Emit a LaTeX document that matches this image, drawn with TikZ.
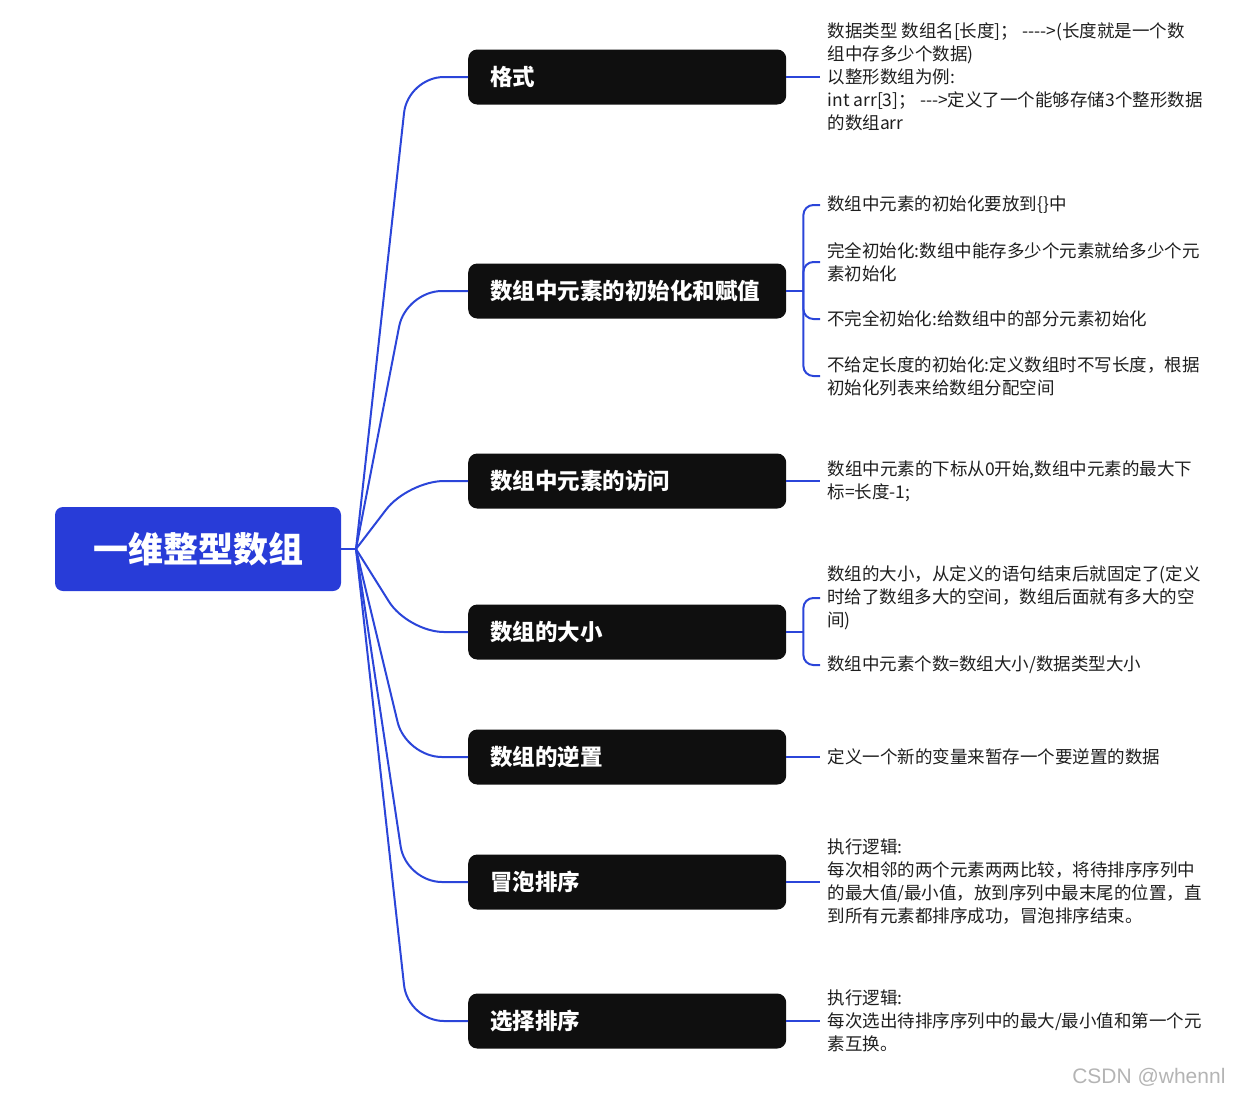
\documentclass[tikz,border=0pt]{standalone}
\usepackage{fontspec}
\setmainfont{Noto Sans CJK SC}
\newfontfamily\markfont{Liberation Sans}
\usepackage{tikz}
\usetikzlibrary{positioning}
\definecolor{rootblue}{HTML}{283CD8}
\definecolor{linkblue}{HTML}{2B45D9}
\definecolor{topicblack}{HTML}{0F0F0F}
\definecolor{leafink}{HTML}{1E1E1E}
\definecolor{markgray}{HTML}{B4B4B4}
\tikzset{
  rootnode/.style={
    rectangle, rounded corners=8pt,
    minimum width=286pt, minimum height=84pt,
    fill=rootblue, text=white,
    font=\fontsize{35}{40}\selectfont\bfseries
  },
  topicnode/.style={
    rectangle, rounded corners=9pt,
    minimum height=55pt, text width=274pt, inner xsep=22pt,
    align=left, fill=topicblack, text=white,
    font=\fontsize{22.5}{26}\selectfont\bfseries
  },
  leafnode/.style={
    align=left, inner xsep=7pt, inner ysep=0pt,
    text=leafink, font=\fontsize{17.5}{23}\selectfont
  },
  link/.style={
    line width=2pt, color=linkblue
  },
  branch/.style={
    link, rounded corners=36pt
  },
  bracket/.style={
    link, rounded corners=10pt
  },
  watermark/.style={
    text=markgray, font=\markfont\fontsize{21}{24}\selectfont
  }
}

\begin{document}
\begin{tikzpicture}[x=1pt, y=-1pt]
  \useasboundingbox (0,0) rectangle (1233,1096);

  % ── Root ───────────────────────────────────────────────────────────────
  \node[rootnode] (root) at (198,549) {一维整型数组};
  \coordinate (hub) at (356,549);
  \draw[link] (root.east) -- (hub);

  % ── Topics ─────────────────────────────────────────────────────────────
  \node[topicnode, anchor=west] (geshi)   at (468,77)   {格式};
  \node[topicnode, anchor=west] (init)    at (468,291)  {数组中元素的初始化和赋值};
  \node[topicnode, anchor=west] (visit)   at (468,481)  {数组中元素的访问};
  \node[topicnode, anchor=west] (size)    at (468,632)  {数组的大小};
  \node[topicnode, anchor=west] (reverse) at (468,757)  {数组的逆置};
  \node[topicnode, anchor=west] (bubble)  at (468,882)  {冒泡排序};
  \node[topicnode, anchor=west] (select)  at (468,1021) {选择排序};

  % branches — root to topics
  \draw[branch] (hub) -- ([xshift=-60pt]geshi.west)   -- (geshi.west);
  \draw[branch] (hub) -- ([xshift=-62pt]init.west)    -- (init.west);
  \draw[branch] (hub) -- ([xshift=-60pt]visit.west)   -- (visit.west);
  \draw[branch] (hub) -- ([xshift=-60pt]size.west)    -- (size.west);
  \draw[branch] (hub) -- ([xshift=-62pt]reverse.west) -- (reverse.west);
  \draw[branch] (hub) -- ([xshift=-62pt]bubble.west)  -- (bubble.west);
  \draw[branch] (hub) -- ([xshift=-60pt]select.west)  -- (select.west);

  % ── Leaves: single ─────────────────────────────────────────────────────
  \node[leafnode, right=34pt of geshi] (geshileaf)
    {数据类型 数组名[长度]；\ -{}-{}-{}->(长度就是一个数\\组中存多少个数据)\\以整形数组为例:\\int arr[3]；\ -{}-{}->定义了一个能够存储3个整形数据\\的数组arr};
  \node[leafnode, right=34pt of visit] (visitleaf)
    {数组中元素的下标从0开始,数组中元素的最大下\\标=长度-1;};
  \node[leafnode, right=34pt of reverse] (reverseleaf)
    {定义一个新的变量来暂存一个要逆置的数据};
  \node[leafnode, right=34pt of bubble] (bubbleleaf)
    {执行逻辑:\\每次相邻的两个元素两两比较，将待排序序列中\\的最大值/最小值，放到序列中最末尾的位置，直\\到所有元素都排序成功，冒泡排序结束。};
  \node[leafnode, right=34pt of select] (selectleaf)
    {执行逻辑:\\每次选出待排序序列中的最大/最小值和第一个元\\素互换。};

  \draw[link] (geshi.east)   -- (geshileaf.west);
  \draw[link] (visit.east)   -- (visitleaf.west);
  \draw[link] (reverse.east) -- (reverseleaf.west);
  \draw[link] (bubble.east)  -- (bubbleleaf.west);
  \draw[link] (select.east)  -- (selectleaf.west);

  % ── Leaves: initialisation ─────────────────────────────────────────────
  \node[leafnode, anchor=west] (initA) at (820,205) {数组中元素的初始化要放到\{\}中};
  \node[leafnode, anchor=west] (initB) at (820,262) {完全初始化:数组中能存多少个元素就给多少个元\\素初始化};
  \node[leafnode, anchor=west] (initC) at (820,319) {不完全初始化:给数组中的部分元素初始化};
  \node[leafnode, anchor=west] (initD) at (820,376) {不给定长度的初始化:定义数组时不写长度，根据\\初始化列表来给数组分配空间};

  \coordinate[right=17pt of init.east] (initfork);
  \draw[link] (init.east) -- (initfork);
  \draw[bracket] (initfork) -- (initfork |- initA.west) -- (initA.west);
  \draw[bracket] (initfork) -- (initfork |- initB.west) -- (initB.west);
  \draw[bracket] (initfork) -- (initfork |- initC.west) -- (initC.west);
  \draw[bracket] (initfork) -- (initfork |- initD.west) -- (initD.west);

  % ── Leaves: size ───────────────────────────────────────────────────────
  \node[leafnode, anchor=west] (sizeA) at (820,598) {数组的大小，从定义的语句结束后就固定了(定义\\时给了数组多大的空间，数组后面就有多大的空\\间)};
  \node[leafnode, anchor=west] (sizeB) at (820,665) {数组中元素个数=数组大小/数据类型大小};

  \coordinate[right=17pt of size.east] (sizefork);
  \draw[link] (size.east) -- (sizefork);
  \draw[bracket] (sizefork) -- (sizefork |- sizeA.west) -- (sizeA.west);
  \draw[bracket] (sizefork) -- (sizefork |- sizeB.west) -- (sizeB.west);

  % watermark
  \node[watermark, anchor=east] (mark) at (1229,1077) {CSDN @whennl};

\end{tikzpicture}
\end{document}
